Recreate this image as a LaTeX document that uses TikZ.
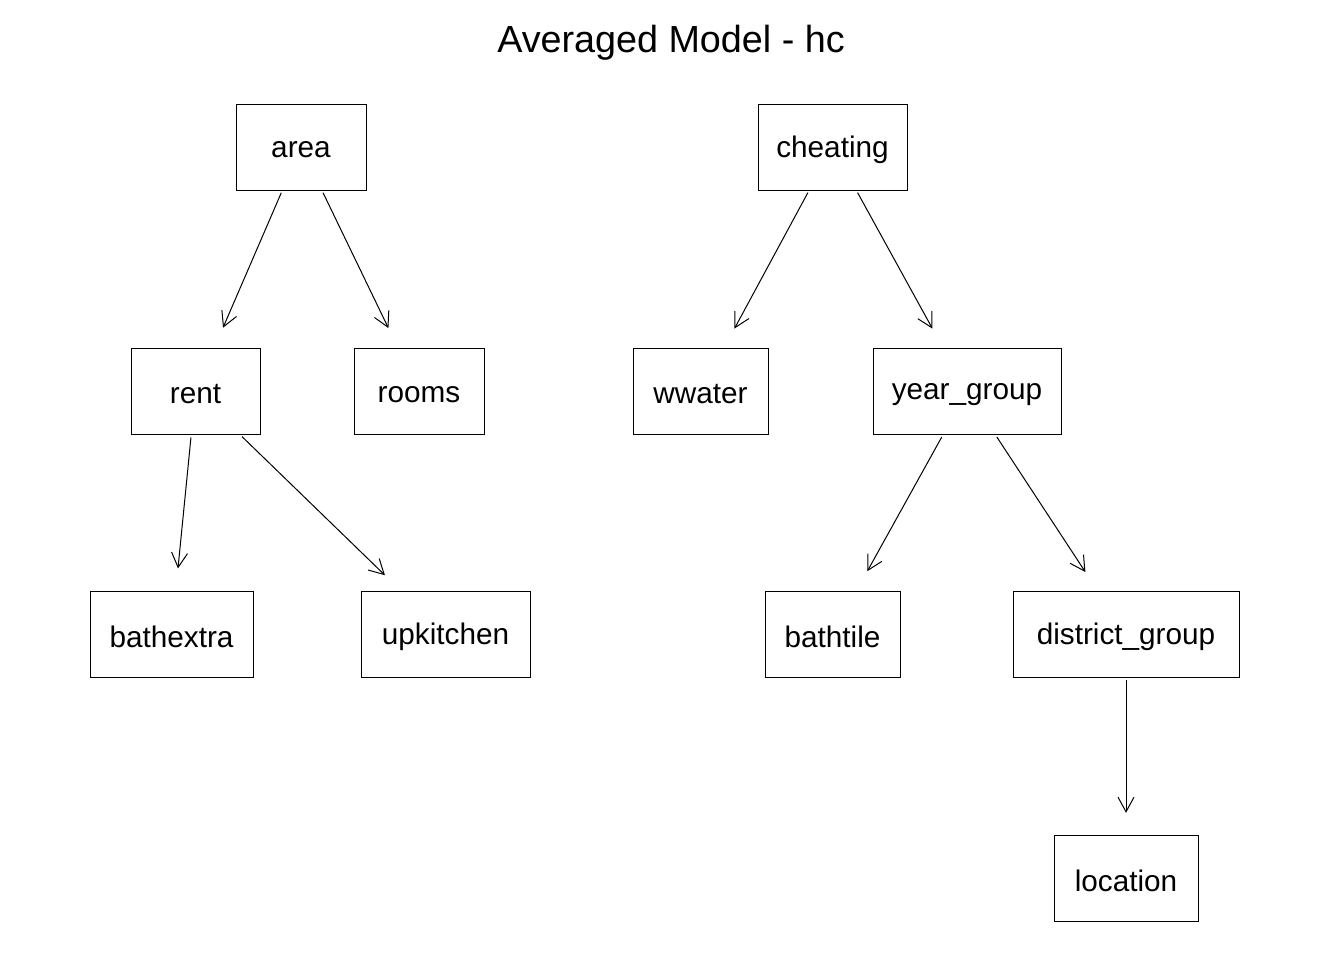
\documentclass[tikz,border=0pt]{standalone}
\usepackage{fontspec}
\setmainfont{Liberation Sans}
\usetikzlibrary{arrows.meta}
\newcommand{\lowtxt}[1]{\raisebox{-2.1pt}[\height][\depth]{#1}}
\begin{document}
\begin{tikzpicture}[x=0.75pt,y=-0.75pt,
  nd/.style={draw=black,line width=0.75pt,inner sep=0pt,outer sep=0pt,
    minimum height=64.5pt,font=\fontsize{22.3}{26}\selectfont},
  edge/.style={draw=black,line width=0.75pt,shorten <=2.25pt,shorten >=17pt,
    -{Straight Barb[length=11pt,width=12pt,line width=0.75pt]}},
  ttl/.style={font=\fontsize{28.3}{32}\selectfont,inner sep=0pt}]
\useasboundingbox (0,0) rectangle (1344,960);
\node[ttl] (title) at (671,43) {Averaged Model - hc};
\node[nd,minimum width=97.5pt] (area) at (301,147) {\lowtxt{area}};
\node[nd,minimum width=111.75pt] (cheating) at (832.5,147) {\lowtxt{cheating}};
\node[nd,minimum width=96.75pt] (rent) at (195.5,391.5) {\lowtxt{rent}};
\node[nd,minimum width=97.5pt] (rooms) at (419,391.5) {\lowtxt{rooms}};
\node[nd,minimum width=101.25pt] (wwater) at (700.5,391.5) {\lowtxt{wwater}};
\node[nd,minimum width=141pt] (year) at (967,391.5) {\lowtxt{year\_group}};
\node[nd,minimum width=122.25pt] (bathextra) at (171.5,634) {\lowtxt{bathextra}};
\node[nd,minimum width=126.75pt] (upkitchen) at (445.5,634) {\lowtxt{upkitchen}};
\node[nd,minimum width=101.25pt] (bathtile) at (832.5,634) {\lowtxt{bathtile}};
\node[nd,minimum width=169.5pt] (district) at (1126,634) {\lowtxt{district\_group}};
\node[nd,minimum width=108pt] (location) at (1126,878.5) {\lowtxt{location}};
\draw[edge] (area) -- (rent);
\draw[edge] (area) -- (rooms);
\draw[edge] (cheating) -- (wwater);
\draw[edge] (cheating) -- (year);
\draw[edge] (rent) -- (bathextra);
\draw[edge] (rent) -- (upkitchen);
\draw[edge] (year) -- (bathtile);
\draw[edge] (year) -- (district);
\draw[edge] (district) -- (location);
\end{tikzpicture}
\end{document}
